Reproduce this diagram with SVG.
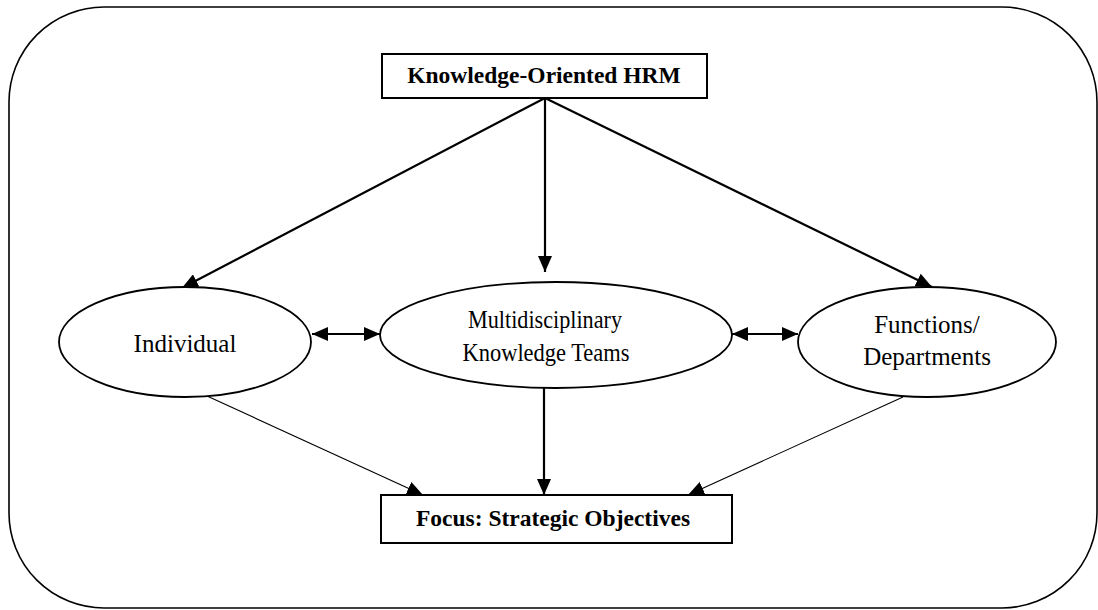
<svg xmlns="http://www.w3.org/2000/svg" width="1098" height="610" viewBox="0 0 1098 610">
<style>
.frame{fill:#fff;stroke:#000;stroke-width:1.6}
.box{fill:#fff;stroke:#000;stroke-width:2}
.ell{fill:#fff;stroke:#000;stroke-width:1.8}
.thick{stroke:#000;stroke-width:2.2;fill:none}
.thin{stroke:#000;stroke-width:1.1;fill:none}
.bt{font-family:"Liberation Serif","Times New Roman",serif;font-weight:bold;font-size:23.5px;text-anchor:middle;fill:#000}
.nt{font-family:"Liberation Serif","Times New Roman",serif;font-size:25px;text-anchor:middle;fill:#000}
</style>
<defs>
<marker id="ah" markerUnits="userSpaceOnUse" markerWidth="16" markerHeight="14" refX="16" refY="7" orient="auto-start-reverse" viewBox="0 0 16 14">
<path d="M0,0 L16,7 L0,14 z" fill="#000"/>
</marker>
</defs>
<rect class="frame" x="9" y="7" width="1088" height="601" rx="95" ry="95"/>
<g id="connectors">
<line class="thick" x1="545" y1="98" x2="182" y2="288" marker-end="url(#ah)"/>
<line class="thick" x1="545" y1="98" x2="545" y2="272" marker-end="url(#ah)"/>
<line class="thick" x1="545" y1="98" x2="932" y2="287" marker-end="url(#ah)"/>
<line class="thick" x1="312" y1="334" x2="380" y2="334" marker-start="url(#ah)" marker-end="url(#ah)"/>
<line class="thick" x1="732" y1="334" x2="798" y2="334" marker-start="url(#ah)" marker-end="url(#ah)"/>
<line class="thin" x1="207" y1="396" x2="423" y2="495" marker-end="url(#ah)"/>
<line class="thick" x1="544" y1="388" x2="544" y2="495" marker-end="url(#ah)"/>
<line class="thin" x1="903" y1="397" x2="688" y2="495" marker-end="url(#ah)"/>
</g>
<g id="hrm">
<rect class="box" x="382" y="54" width="325" height="44"/>
<text class="bt" x="544" y="83">Knowledge-Oriented HRM</text>
</g>
<g id="individual">
<ellipse class="ell" cx="185" cy="342" rx="126" ry="55"/>
<text class="nt" x="185" y="352">Individual</text>
</g>
<g id="teams">
<ellipse class="ell" cx="556" cy="335" rx="176" ry="53"/>
<text class="nt" x="545" y="328" textLength="154" lengthAdjust="spacingAndGlyphs">Multidisciplinary</text>
<text class="nt" x="546" y="361" textLength="167" lengthAdjust="spacingAndGlyphs">Knowledge Teams</text>
</g>
<g id="functions">
<ellipse class="ell" cx="927" cy="342" rx="129" ry="55"/>
<text class="nt" x="927" y="333">Functions/</text>
<text class="nt" x="927" y="365">Departments</text>
</g>
<g id="focus">
<rect class="box" x="381" y="495" width="351" height="48"/>
<text class="bt" x="553" y="526">Focus: Strategic Objectives</text>
</g>
</svg>
